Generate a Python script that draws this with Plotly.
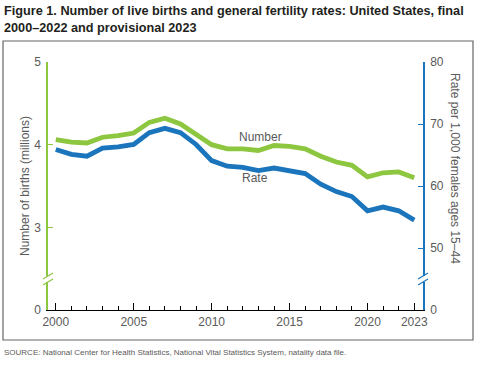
import plotly.graph_objects as go

years = list(range(2000, 2024))
births_millions = [4.06, 4.03, 4.02, 4.09, 4.11, 4.14, 4.27, 4.32, 4.25, 4.13,
                   4.00, 3.95, 3.95, 3.93, 3.99, 3.98, 3.95, 3.86, 3.79, 3.75,
                   3.61, 3.66, 3.67, 3.60]
fertility_rate = [65.9, 65.1, 64.8, 66.1, 66.3, 66.7, 68.6, 69.3, 68.6, 66.7,
                  64.1, 63.2, 63.0, 62.5, 62.9, 62.5, 62.0, 60.3, 59.1, 58.3,
                  56.0, 56.6, 56.0, 54.5]
x_tickvals = [2000, 2005, 2010, 2015, 2020, 2023]
left_tickvals = [2, 3, 4, 5]
left_ticktext = ["0", "3", "4", "5"]
right_tickvals = [40, 50, 60, 70, 80]
right_ticktext = ["0", "50", "60", "70", "80"]

GREEN = "#8DC63F"
BLUE = "#1B75BC"
GRAY = "#5a5a5a"
W, H = 486, 366
L, R, T, B = 48, 423, 62, 310

def px(xp):
    return (xp - L) / (R - L)

def py(yp):
    return (B - yp) / (B - T)

fig = go.Figure()
fig.add_trace(go.Scatter(x=years, y=births_millions, mode="lines",
                         line=dict(color=GREEN, width=4.8), yaxis="y",
                         hoverinfo="skip"))
fig.add_trace(go.Scatter(x=years, y=fertility_rate, mode="lines",
                         line=dict(color=BLUE, width=4.8), yaxis="y2",
                         hoverinfo="skip"))

shapes = []
# outer frame
shapes.append(dict(type="rect", xref="paper", yref="paper",
                   x0=px(3), x1=px(473), y0=py(340), y1=py(41),
                   line=dict(color="#666666", width=1.2), layer="below"))
# axis breaks
for xa, col in [(L, GREEN), (R, BLUE)]:
    shapes.append(dict(type="line", xref="paper", yref="paper",
                       x0=px(xa), x1=px(xa), y0=py(282), y1=py(276),
                       line=dict(color="white", width=4)))
    for yo in [0, 6]:
        shapes.append(dict(type="line", xref="paper", yref="paper",
                           x0=px(xa - 5), x1=px(xa + 5), y0=py(279 + yo), y1=py(273 + yo),
                           line=dict(color=col, width=1.2)))

FONT = "Liberation Sans, Arial, sans-serif"
TITLE_FONT = dict(family=FONT, size=12.7, color="#231f20")

def ann(text, x, y, size=12, angle=0, xanchor="center", font=None):
    return dict(text=text, xref="paper", yref="paper", x=px(x), y=py(y),
                xanchor=xanchor, yanchor="middle", textangle=angle,
                showarrow=False,
                font=font or dict(family=FONT, size=size, color=GRAY))

annotations = [
    ann("<b>Figure 1. Number of live births and general fertility rates: United States, final</b>",
        2, 11, xanchor="left", font=TITLE_FONT),
    ann("<b>2000\u20132022 and provisional 2023</b>", 2, 28, xanchor="left", font=TITLE_FONT),
    ann("SOURCE: National Center for Health Statistics, National Vital Statistics System, natality data file.",
        2, 352, size=8, xanchor="left"),
    ann("Number", 260, 137),
    ann("Rate", 255, 178),
    ann("Number of births (millions)", 25, 186, angle=-90),
    ann("Rate per 1,000 females ages 15\u201344", 455, 168, angle=90),
]

fig.update_layout(
    width=W, height=H,
    margin=dict(l=L, r=W - R, t=T, b=H - B, pad=0),
    paper_bgcolor="white", plot_bgcolor="white",
    showlegend=False,
    font=dict(family=FONT, size=12, color=GRAY),
    xaxis=dict(range=[1999.5, 2023.56], tickvals=x_tickvals,
               ticktext=[str(v) for v in x_tickvals],
               ticks="inside", ticklen=7, tickwidth=1.3, tickcolor="black",
               showline=True, linecolor="black", linewidth=1.3,
               showgrid=False, zeroline=False,
               minor=dict(tick0=2000, dtick=1, ticks="inside", ticklen=4,
                          tickwidth=1.3, tickcolor="black", showgrid=False),
               tickfont=dict(size=12, color=GRAY)),
    yaxis=dict(range=[2, 5], tickvals=left_tickvals, ticktext=left_ticktext,
               ticks="inside", ticklen=5, tickwidth=1.3, tickcolor=GREEN,
               showline=True, linecolor=GREEN, linewidth=1.5,
               showgrid=False, zeroline=False, ticklabelstandoff=3,
               tickfont=dict(size=12, color=GRAY)),
    yaxis2=dict(range=[40, 80], tickvals=right_tickvals, ticktext=right_ticktext,
                overlaying="y", side="right",
                ticks="inside", ticklen=5, tickwidth=1.3, tickcolor=BLUE,
                showline=True, linecolor=BLUE, linewidth=1.5,
                showgrid=False, zeroline=False, ticklabelstandoff=3,
                tickfont=dict(size=12, color=GRAY)),
    shapes=shapes,
    annotations=annotations,
)

fig.write_html("out.html", config={"displayModeBar": False},
               post_script="document.body.style.margin='0';document.body.style.overflow='hidden';")
